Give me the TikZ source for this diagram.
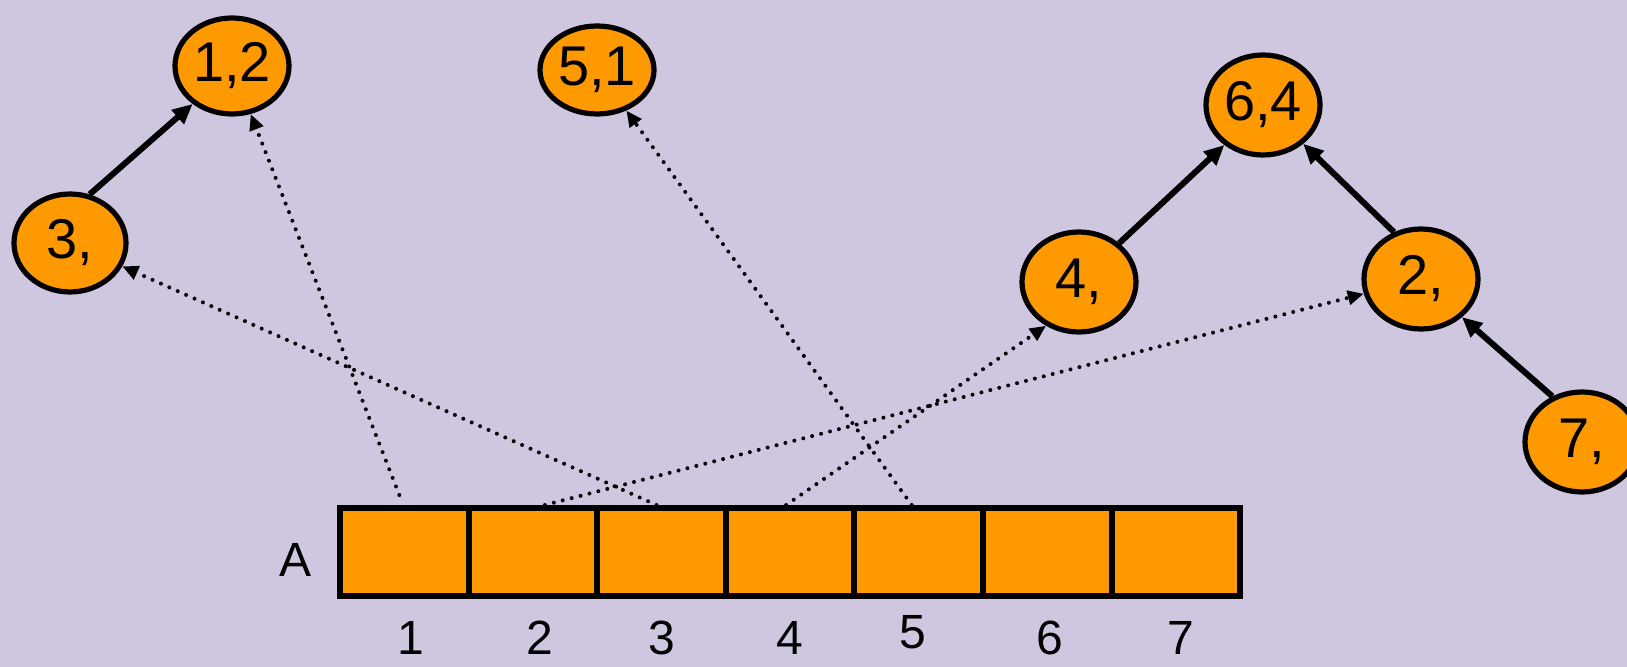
\documentclass[tikz,border=0pt]{standalone}
\usepackage{fontspec}
\setmainfont{Liberation Sans}
\usetikzlibrary{arrows.meta,shapes.geometric}
\definecolor{lavender}{RGB}{207,199,224}
\definecolor{setorange}{RGB}{255,153,0}

\begin{document}
\begin{tikzpicture}[
  x=0.5pt, y=-0.5pt,
  elem/.style={
    ellipse, draw, line width=2.6pt, fill=setorange,
    inner sep=0pt, minimum width=57pt, minimum height=50pt,
    font=\fontsize{28}{30}\selectfont
  },
  cell/.style={
    rectangle, draw, line width=3pt, fill=setorange,
    inner sep=0pt, minimum width=64.3pt, minimum height=44pt
  },
  idx/.style={font=\fontsize{24}{26}\selectfont},
  arr/.style={-{Triangle[length=10pt,width=9pt]}, line width=3pt},
  ptr/.style={-{Triangle[length=8pt,width=7pt]}, line width=2pt,
    line cap=round, dash pattern=on 0pt off 4.6pt}
]

\path[use as bounding box, fill=lavender] (0,0) rectangle (1627,667);

\node[elem, minimum height=48pt] (e12) at (232,66) {1,2};
\node[elem, minimum height=44pt] (e51) at (597,70) {5,1};
\node[elem, minimum width=56pt, minimum height=49pt] (e3) at (70,243) {3,};
\node[elem] (e64) at (1263,105) {6,4};
\node[elem] (e4) at (1079,282) {4,};
\node[elem] (e2) at (1421,279) {2,};
\node[elem] (e7) at (1582,442) {7,};

\foreach \i in {1,...,7}
  \node[cell] (c\i) at ({340+128.6*(\i-0.5)},552) {};

\node[idx] (alabel) at (296,560) {A};
\foreach \i/\x/\y in {1/411/638, 2/540/638, 3/662/638, 4/790/638,
                     5/913/632, 6/1050/638, 7/1181/638}
  \node[idx] (n\i) at (\x,\y) {\i};

\draw[arr] (e3.68) -- (e12.224);
\draw[arr] (e4.44) -- (e64.226);
\draw[arr] (e2.120) -- (e64.-44);
\draw[arr] (e7.123) -- (e2.-43);

\draw[ptr] ([xshift=-2.5pt,yshift=5pt]c1.north) -- (e12);
\draw[ptr] ([xshift=6pt]c2.north) -- (e2);
\draw[ptr] ([xshift=-2.5pt]c3.north) -- (e3);
\draw[ptr] ([xshift=-2pt]c4.north) -- (e4.-127);
\draw[ptr] ([xshift=-3.5pt]c5.north) -- (e51);

\end{tikzpicture}
\end{document}
